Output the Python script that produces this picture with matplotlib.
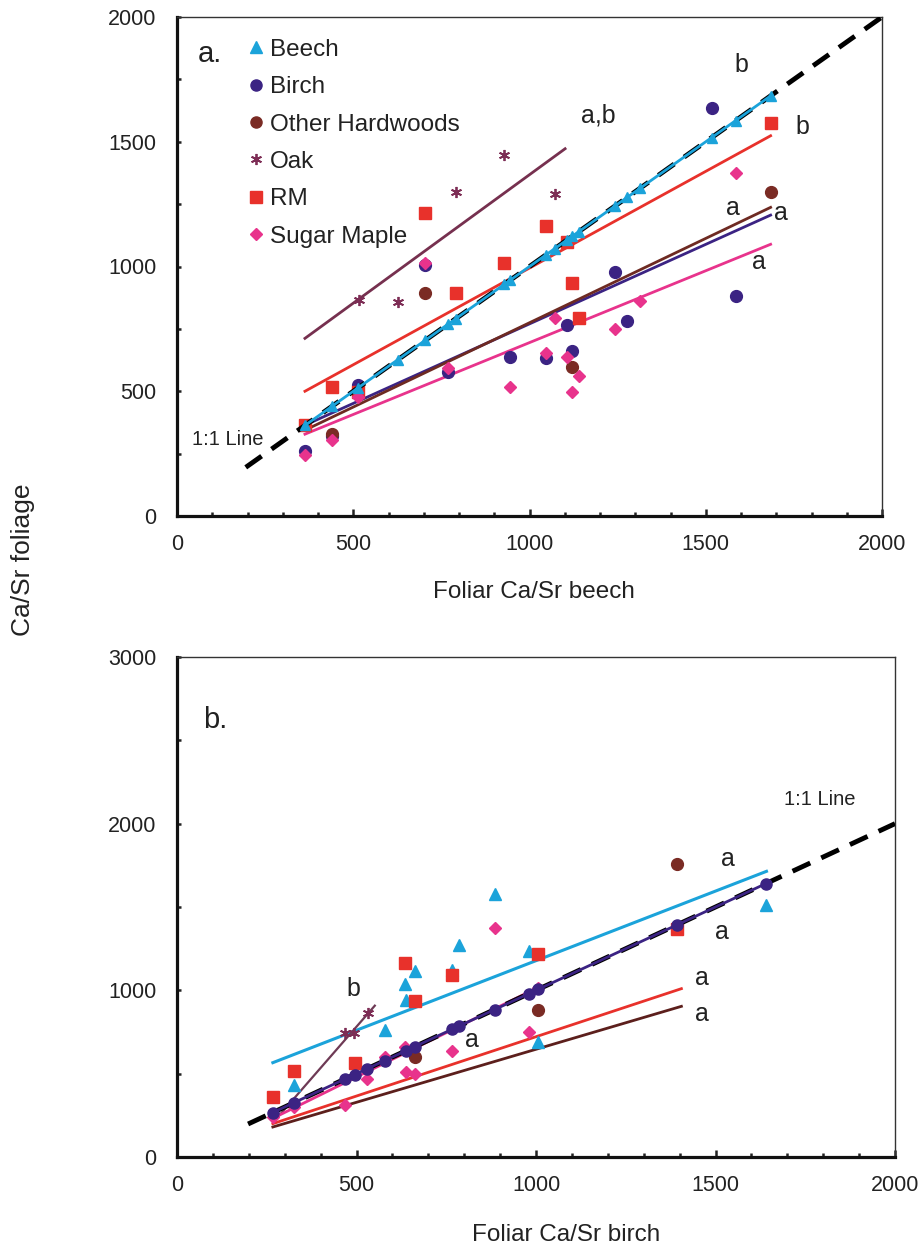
import matplotlib
matplotlib.use("Agg")
import matplotlib.pyplot as plt
from matplotlib.ticker import MultipleLocator
from matplotlib.lines import Line2D

plt.rcParams["font.family"] = ["Liberation Sans", "DejaVu Sans"]

# colours of the species
c_beech = "#1ba3da"
c_birch = "#3b2383"
c_oh = "#7a2b24"
c_oak = "#7d2d55"
c_rm = "#e8312b"
c_sm = "#e8338c"

# ---- panel a: x = foliar Ca/Sr of beech at each site ----
beech_a_x = [363, 439, 514, 626, 704, 770, 791, 929, 945, 1046, 1072, 1107, 1121, 1140,
             1242, 1278, 1313, 1517, 1585, 1684]

birch_a_x = [363, 439, 514, 704, 770, 945, 1046, 1107, 1121, 1242, 1278, 1517, 1585]
birch_a_y = [262, 322, 525, 1006, 578, 638, 632, 765, 661, 979, 781, 1634, 882]

oh_a_x = [439, 704, 1121, 1684]
oh_a_y = [330, 893, 598, 1300]

oak_a_x = [516, 626, 791, 929, 1072]
oak_a_y = [866, 857, 1297, 1447, 1289]

rm_a_x = [363, 439, 514, 704, 791, 929, 1046, 1107, 1121, 1140, 1684]
rm_a_y = [365, 518, 498, 1213, 892, 1013, 1164, 1100, 933, 792, 1574]

sm_a_x = [363, 439, 514, 704, 770, 945, 1046, 1072, 1107, 1121, 1140, 1242, 1313, 1585]
sm_a_y = [246, 305, 478, 1013, 592, 518, 652, 795, 638, 498, 561, 750, 863, 1376]

# fitted lines ([x start, x end], [y start, y end])
fit_a_birch = ([363, 1684], [364, 1206])
fit_a_oh = ([363, 1684], [344, 1237])
fit_a_oak = ([363, 1101], [712, 1472])
fit_a_rm = ([363, 1684], [500, 1524])
fit_a_sm = ([363, 1684], [328, 1089])

# significance letters, panel a
letters_a = ["a,b", "b", "b", "a", "a", "a"]
letters_a_x = [1195, 1601, 1775, 1578, 1712, 1650]
letters_a_y = [1606, 1806, 1560, 1233, 1213, 1020]

# ---- panel b: x = foliar Ca/Sr of birch at each site ----
birch_b_x = [267, 326, 467, 495, 530, 579, 637, 663, 767, 786, 885, 981, 1006, 1393, 1640]

beech_b_x = [326, 579, 635, 639, 663, 767, 786, 885, 981, 1006, 1640]
beech_b_y = [430, 764, 1040, 944, 1116, 1120, 1274, 1580, 1236, 690, 1510]

rm_b_x = [267, 326, 495, 635, 663, 767, 1006, 1393]
rm_b_y = [360, 514, 566, 1164, 936, 1094, 1216, 1366]

oh_b_x = [663, 1006, 1393]
oh_b_y = [600, 885, 1756]

oak_b_x = [467, 492, 532]
oak_b_y = [746, 746, 866]

sm_b_x = [267, 326, 467, 530, 579, 635, 639, 663, 767, 885, 981, 1006]
sm_b_y = [240, 300, 312, 470, 600, 660, 512, 500, 636, 1376, 750, 1014]

fit_b_beech = ([267, 1642], [566, 1714])
fit_b_rm = ([267, 1405], [200, 1010])
fit_b_oh = ([267, 1405], [180, 904])
fit_b_oak = ([277, 551], [230, 908])
fit_b_sm = ([267, 1006], [232, 1018])

letters_b = ["a", "a", "a", "a", "b", "a"]
letters_b_x = [1535, 1518, 1463, 1463, 490, 822]
letters_b_y = [1786, 1348, 1076, 860, 1010, 700]


def style_axes(ax, xmax, ymax, ymajor, yminor):
    ax.set_xlim(0, xmax)
    ax.set_ylim(0, ymax)
    ax.xaxis.set_major_locator(MultipleLocator(500))
    ax.xaxis.set_minor_locator(MultipleLocator(100))
    ax.yaxis.set_major_locator(MultipleLocator(ymajor))
    ax.yaxis.set_minor_locator(MultipleLocator(yminor))
    ax.tick_params(which="both", direction="in", top=False, right=False,
                   labelsize=15.5, colors="#222222", width=1.8)
    ax.tick_params(axis="x", which="major", length=5, pad=13)
    ax.tick_params(axis="x", which="minor", length=3)
    ax.tick_params(axis="y", which="both", length=3, pad=15)
    for s in ["left", "bottom"]:
        ax.spines[s].set_linewidth(2.3)
        ax.spines[s].set_color("#111111")
    for s in ["top", "right"]:
        ax.spines[s].set_linewidth(1.0)
        ax.spines[s].set_color("#333333")


fig = plt.figure(figsize=(9.23, 12.49), dpi=100)

# ---------------- panel a ----------------
ax1 = fig.add_axes([177 / 923, 1 - 516 / 1249, 705 / 923, 499 / 1249])
style_axes(ax1, 2000, 2000, 500, 250)

ax1.plot([195, 2000], [195, 2000], color="black", lw=3.5, ls=(0, (4, 2.5)), zorder=4,
         solid_capstyle="butt")
ax1.plot(*fit_a_birch, color=c_birch, lw=2, zorder=2)
ax1.plot(*fit_a_oh, color="#6e2a22", lw=2, zorder=2)
ax1.plot(*fit_a_oak, color="#76304f", lw=2, zorder=2)
ax1.plot(*fit_a_rm, color=c_rm, lw=2, zorder=2)
ax1.plot(*fit_a_sm, color=c_sm, lw=2, zorder=2)
ax1.plot(beech_a_x, beech_a_x, color=c_beech, lw=2, marker="^", ms=7, zorder=5)

ax1.plot(birch_a_x, birch_a_y, ls="none", marker="o", ms=8.5, color=c_birch, zorder=3)
ax1.plot(oh_a_x, oh_a_y, ls="none", marker="o", ms=8.5, color=c_oh, zorder=3)
ax1.plot(oak_a_x, oak_a_y, ls="none", marker=(6, 2, 0), ms=8, mew=1.3, color=c_oak, zorder=3)
ax1.plot(rm_a_x, rm_a_y, ls="none", marker="s", ms=8, color=c_rm, zorder=3)
ax1.plot(sm_a_x, sm_a_y, ls="none", marker="D", ms=6, color=c_sm, zorder=3)

for t, x, y in zip(letters_a, letters_a_x, letters_a_y):
    ax1.text(x, y, t, fontsize=18, ha="center", va="center", color="#222222")
ax1.text(145, 305, "1:1 Line", fontsize=14.5, ha="center", va="center", color="#222222")
ax1.text(93, 1850, "a.", fontsize=21, ha="center", va="center", color="#222222")

handles = [
    Line2D([], [], ls="none", marker="^", ms=8, color=c_beech),
    Line2D([], [], ls="none", marker="o", ms=8, color=c_birch),
    Line2D([], [], ls="none", marker="o", ms=8, color=c_oh),
    Line2D([], [], ls="none", marker=(6, 2, 0), ms=8, mew=1.3, color=c_oak),
    Line2D([], [], ls="none", marker="s", ms=8, color=c_rm),
    Line2D([], [], ls="none", marker="D", ms=6, color=c_sm),
]
labels = ["Beech", "Birch", "Other Hardwoods", "Oak", "RM", "Sugar Maple"]
ax1.legend(handles, labels, loc="upper left", bbox_to_anchor=(0.07, 1.0), frameon=False,
           fontsize=17.5, handlelength=0.6, handletextpad=0.3, labelspacing=0.63,
           borderpad=0.4, labelcolor="#222222")

# ---------------- panel b ----------------
ax2 = fig.add_axes([177 / 923, 1 - 1157 / 1249, 718 / 923, 500 / 1249])
style_axes(ax2, 2000, 3000, 1000, 500)

ax2.plot([198, 2000], [198, 2000], color="black", lw=3.5, ls=(0, (4, 2.5)), zorder=4,
         solid_capstyle="butt")
ax2.plot(*fit_b_beech, color=c_beech, lw=2.2, zorder=2)
ax2.plot(*fit_b_rm, color=c_rm, lw=2, zorder=2)
ax2.plot(*fit_b_oh, color="#5c1f1c", lw=2, zorder=2)
ax2.plot(*fit_b_oak, color="#6e3a55", lw=1.6, zorder=2)
ax2.plot(*fit_b_sm, color=c_sm, lw=2, zorder=2)
ax2.plot(birch_b_x, birch_b_x, color=c_birch, lw=2, marker="o", ms=8, zorder=5)

ax2.plot(beech_b_x, beech_b_y, ls="none", marker="^", ms=8.5, color=c_beech, zorder=3)
ax2.plot(rm_b_x, rm_b_y, ls="none", marker="s", ms=8, color=c_rm, zorder=3)
ax2.plot(oh_b_x, oh_b_y, ls="none", marker="o", ms=8.5, color=c_oh, zorder=3)
ax2.plot(oak_b_x, oak_b_y, ls="none", marker=(6, 2, 0), ms=8, mew=1.3, color=c_oak, zorder=3)
ax2.plot(sm_b_x, sm_b_y, ls="none", marker="D", ms=6, color=c_sm, zorder=3)

for t, x, y in zip(letters_b, letters_b_x, letters_b_y):
    ax2.text(x, y, t, fontsize=18, ha="center", va="center", color="#222222")
ax2.text(1791, 2146, "1:1 Line", fontsize=14.5, ha="center", va="center", color="#222222")
ax2.text(106, 2622, "b.", fontsize=21, ha="center", va="center", color="#222222")

# axis labels
fig.text(534 / 923, 1 - 592 / 1249, "Foliar Ca/Sr beech", fontsize=17.5, ha="center",
         va="center", color="#222222")
fig.text(566 / 923, 1 - 1235 / 1249, "Foliar Ca/Sr birch", fontsize=17.5, ha="center",
         va="center", color="#222222")
fig.text(23 / 923, 1 - 560 / 1249, "Ca/Sr foliage", fontsize=19, rotation=90, ha="center",
         va="center", color="#222222")

fig.savefig("out.png", dpi=100)
